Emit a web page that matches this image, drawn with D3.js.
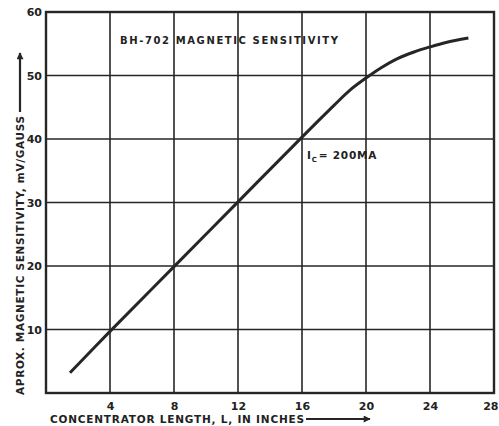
<!DOCTYPE html>
<html>
<head>
<meta charset="utf-8">
<script src="https://cdn.jsdelivr.net/npm/d3@7"></script>
<style>
  html, body { margin: 0; padding: 0; background: #fff; }
  svg { display: block; }
  text { font-family: "DejaVu Sans", sans-serif; font-weight: bold; fill: #222; }
</style>
</head>
<body>
<svg id="chart" width="499" height="426"></svg>
<script>
// Concentrator length (inches) vs. approximate magnetic sensitivity (mV/gauss)
const lengthIn = [1.5, 4, 8, 12, 16, 18, 19, 20, 21, 22, 23, 24, 25, 26.4];
const sensitivity = [3.2, 9.7, 19.9, 30.1, 40.3, 45.3, 47.7, 49.6, 51.3, 52.7, 53.7, 54.5, 55.2, 55.9];
const xTicks = [4, 8, 12, 16, 20, 24, 28];
const yTicks = [10, 20, 30, 40, 50, 60];
const xGrid = [0, 4, 8, 12, 16, 20, 24, 28];
const yGrid = [0, 10, 20, 30, 40, 50, 60];

const titleText = "BH-702 MAGNETIC SENSITIVITY";
const xLabelText = "CONCENTRATOR LENGTH, L, IN INCHES";
const yLabelText = "APROX. MAGNETIC SENSITIVITY, mV/GAUSS";

const svg = d3.select("#chart");
const ink = "#262626";

const x = d3.scaleLinear().domain([0, 28]).range([46, 494]);
const y = d3.scaleLinear().domain([0, 60]).range([393, 12]);

// arrowhead marker
svg.append("defs").append("marker")
  .attr("id", "arrow").attr("viewBox", "0 0 10 10")
  .attr("refX", 9).attr("refY", 5)
  .attr("markerWidth", 9).attr("markerHeight", 7)
  .attr("markerUnits", "userSpaceOnUse")
  .attr("orient", "auto")
  .append("path").attr("d", "M0,0 L10,5 L0,10 Z").attr("fill", ink);

// grid
const grid = svg.append("g");
grid.selectAll("line.v").data(xGrid).join("line")
  .attr("x1", d => x(d)).attr("x2", d => x(d))
  .attr("y1", y(0)).attr("y2", y(60))
  .attr("stroke", ink).attr("stroke-width", 1.6);
grid.selectAll("line.h").data(yGrid).join("line")
  .attr("y1", d => y(d)).attr("y2", d => y(d))
  .attr("x1", x(0)).attr("x2", x(28))
  .attr("stroke", ink).attr("stroke-width", 1.6);

// frame
svg.append("rect")
  .attr("x", x(0)).attr("y", y(60))
  .attr("width", x(28) - x(0)).attr("height", y(0) - y(60))
  .attr("fill", "none").attr("stroke", ink).attr("stroke-width", 2.4);

// axes (labels only)
const xAxis = svg.append("g").attr("transform", `translate(0,${y(0)})`)
  .call(d3.axisBottom(x).tickValues(xTicks).tickSize(0).tickPadding(9));
xAxis.select(".domain").remove();
xAxis.selectAll("text").attr("font-size", 11).attr("font-family", "DejaVu Sans").attr("font-weight", "bold").attr("fill", ink);
// keep the last label inside the page
xAxis.selectAll("text").filter(d => d === 28).attr("text-anchor", "end").attr("dx", 4);

const yAxis = svg.append("g").attr("transform", `translate(${x(0)},0)`)
  .call(d3.axisLeft(y).tickValues(yTicks).tickSize(0).tickPadding(4));
yAxis.select(".domain").remove();
yAxis.selectAll("text").attr("font-size", 11).attr("font-family", "DejaVu Sans").attr("font-weight", "bold").attr("fill", ink);

// curve
const pts = lengthIn.map((d, i) => [d, sensitivity[i]]);
svg.append("path").datum(pts)
  .attr("fill", "none").attr("stroke", ink).attr("stroke-width", 3)
  .attr("stroke-linecap", "butt")
  .attr("d", d3.line().x(d => x(d[0])).y(d => y(d[1])).curve(d3.curveCatmullRom));

// title
svg.append("text")
  .attr("x", 120).attr("y", 44)
  .attr("font-size", 10)
  .attr("textLength", 218).attr("lengthAdjust", "spacing")
  .text(titleText);

// current annotation
const ic = svg.append("text").attr("x", 307).attr("y", 159).attr("font-size", 10.5)
  .attr("letter-spacing", 0.8);
ic.append("tspan").text("I");
ic.append("tspan").attr("font-size", 7).attr("dy", 3).text("C");
ic.append("tspan").attr("dy", -3).attr("dx", 1).text("= 200MA");

// x label + arrow
svg.append("text")
  .attr("x", 50).attr("y", 423)
  .attr("font-size", 10.5)
  .attr("textLength", 254).attr("lengthAdjust", "spacing")
  .text(xLabelText);
svg.append("line")
  .attr("x1", 306).attr("x2", 370).attr("y1", 419).attr("y2", 419)
  .attr("stroke", ink).attr("stroke-width", 2.2)
  .attr("marker-end", "url(#arrow)");

// y label + arrow
svg.append("text")
  .attr("transform", "translate(24,395) rotate(-90)")
  .attr("x", 0).attr("y", 0)
  .attr("font-size", 10.5)
  .attr("textLength", 279).attr("lengthAdjust", "spacing")
  .text(yLabelText);
svg.append("line")
  .attr("x1", 20).attr("x2", 20).attr("y1", 112).attr("y2", 53)
  .attr("stroke", ink).attr("stroke-width", 2.2)
  .attr("marker-end", "url(#arrow)");
</script>
</body>
</html>
